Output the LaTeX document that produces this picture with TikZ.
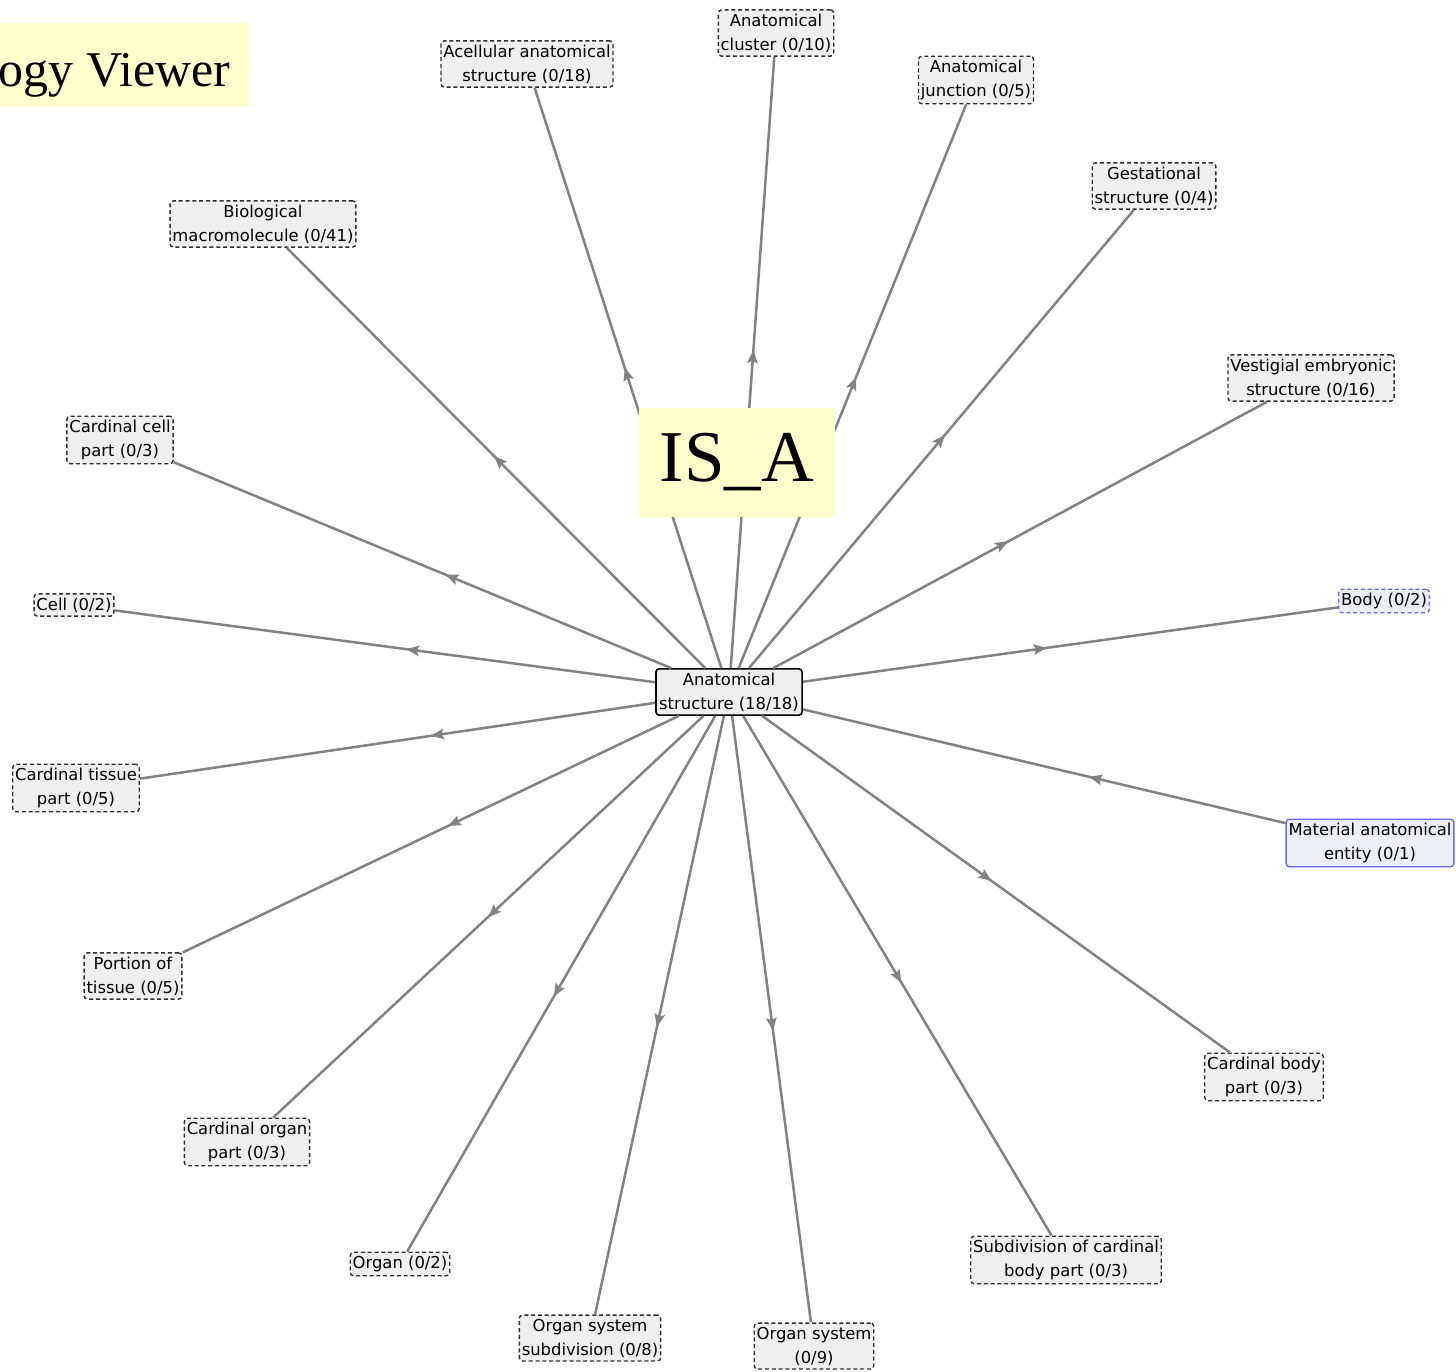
\documentclass[tikz,border=0pt]{standalone}
\usepackage{fontspec}
\setmainfont{Liberation Serif}
\newfontfamily\uifont{DejaVu Sans}
\usetikzlibrary{arrows.meta,decorations.markings}
\definecolor{edgegray}{HTML}{828282}
\definecolor{boxfill}{HTML}{EFEFEF}
\definecolor{boxline}{HTML}{2E2E2E}
\definecolor{selblue}{HTML}{6A6AF2}
\definecolor{selfill}{HTML}{EEEEF6}
\definecolor{notefill}{HTML}{FFFFCC}

\begin{document}
\begin{tikzpicture}[x=0.5pt,y=-0.5pt,>={Stealth[length=6.5pt,width=5.2pt,inset=1.2pt]},
  term/.style={draw=boxline,fill=boxfill,line width=0.7pt,dash pattern=on 2pt off 1.4pt,
    rounded corners=1.6pt,align=center,inner xsep=1.2pt,inner ysep=1.9pt,
    font=\uifont\fontsize{8.2}{12}\selectfont},
  focus/.style={term,solid,draw=black,line width=0.8pt,inner xsep=1.6pt},
  picked/.style={term,draw=selblue,fill=selfill},
  isa/.style={draw=edgegray,line width=1.25pt,postaction={decorate},
    decoration={markings,mark=at position -147pt with {\arrow{>}}}}]
  \useasboundingbox (0,0) rectangle (1456,1371);
  % title note, cut at the left edge
  \begin{scope}
    \clip (0,23) rectangle (249,107);
    \fill[notefill] (0,23) rectangle (249,107);
    \node[anchor=base east,inner sep=0pt,font=\fontsize{25}{25}\selectfont] (title) at (231,86) {Ontology Viewer};
  \end{scope}
  % terms
  \node[focus] (ana) at (729,692) {Anatomical\\structure (18/18)};
  \node[term] (acell) at (527,64) {Acellular anatomical\\structure (0/18)};
  \node[term] (clus) at (776,33) {Anatomical\\cluster (0/10)};
  \node[term] (junc) at (976,80) {Anatomical\\junction (0/5)};
  \node[term] (gest) at (1154,186) {Gestational\\structure (0/4)};
  \node[term] (vest) at (1311,378) {Vestigial embryonic\\structure (0/16)};
  \node[picked] (body) at (1384,601) {Body (0/2)};
  \node[picked,solid] (mat) at (1370,843) {Material anatomical\\entity (0/1)};
  \node[term] (cbody) at (1264,1077) {Cardinal body\\part (0/3)};
  \node[term] (subcb) at (1066,1260) {Subdivision of cardinal\\body part (0/3)};
  \node[term] (osys) at (814,1346) {Organ system\\(0/9)};
  \node[term] (osub) at (590,1338) {Organ system\\subdivision (0/8)};
  \node[term] (organ) at (400,1264) {Organ (0/2)};
  \node[term] (corgan) at (247,1142) {Cardinal organ\\part (0/3)};
  \node[term] (ptis) at (133,976) {Portion of\\tissue (0/5)};
  \node[term] (ctis) at (76,788) {Cardinal tissue\\part (0/5)};
  \node[term] (cell) at (74,605) {Cell (0/2)};
  \node[term] (ccell) at (120,440) {Cardinal cell\\part (0/3)};
  \node[term] (macro) at (263,224) {Biological\\macromolecule (0/41)};
  % is_a links
  \foreach \t in {acell,clus,junc,gest,vest,body,cbody,subcb,osys,osub,organ,corgan,ptis,ctis,cell,ccell,macro}
    \draw[isa] (ana) -- (\t);
  \draw[isa] (mat) -- (ana);
  % relation note
  \node[fill=notefill,minimum width=98pt,minimum height=54.5pt,inner sep=0pt,
    font=\fontsize{36.5}{36.5}\selectfont] (rel) at (737,462.5) {IS\_A};
\end{tikzpicture}
\end{document}
